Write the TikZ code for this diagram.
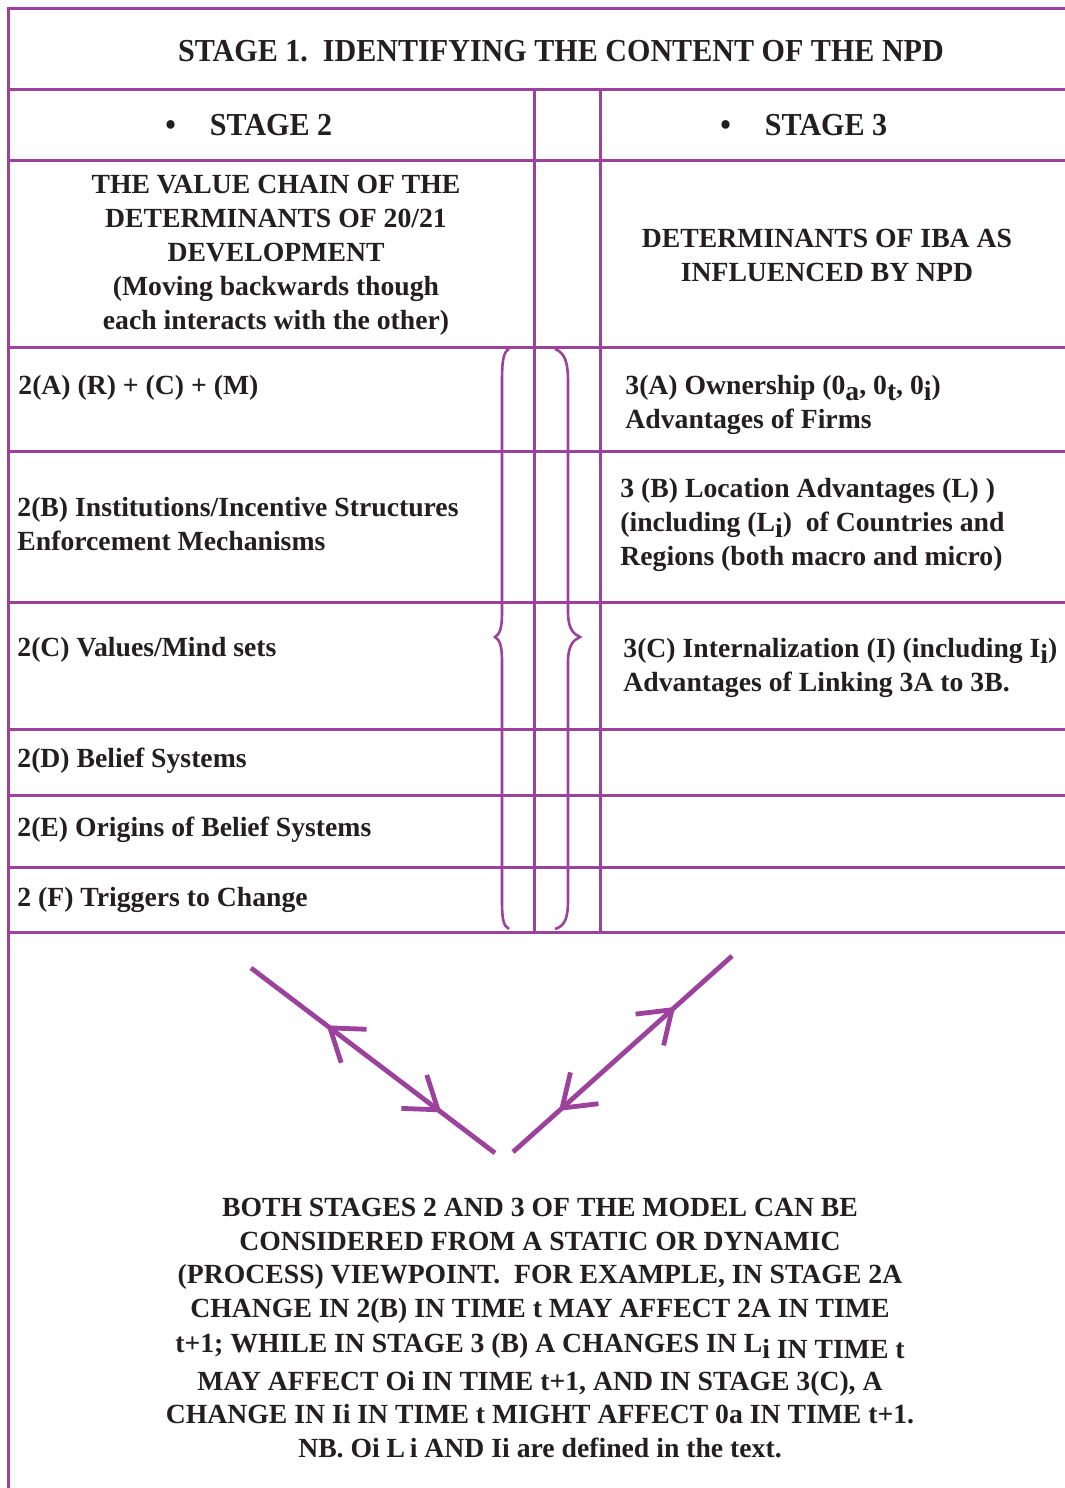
\documentclass[tikz,border=0pt]{standalone}
\usepackage{fontspec}
\usepackage{graphicx}
\setmainfont{Liberation Serif}
\newfontfamily\titlefont{Liberation Serif}[FakeStretch=0.94]
\usetikzlibrary{arrows.meta,decorations.markings}
\definecolor{npdpurple}{RGB}{156,66,156}
\definecolor{inkc}{RGB}{35,31,32}
\newcommand\lsub[1]{\raisebox{-0.2em}{#1}}
\begin{document}
\begin{tikzpicture}[x=0.5pt,y=-0.5pt,
  gridline/.style={draw=npdpurple, line width=1.5pt},
  bracepath/.style={draw=npdpurple, line width=1.3pt},
  arrowline/.style={draw=npdpurple, line width=2.4pt},
  bodytxt/.style={inner sep=0pt, text=inkc, font=\fontsize{13.85pt}{17pt}\selectfont\bfseries},
  titletxt/.style={inner sep=0pt, text=inkc, font=\fontsize{16pt}{19pt}\titlefont\bfseries},
  cell/.style={bodytxt, anchor=west, align=left},
  headblock/.style={bodytxt, align=center},
  barb/.tip={Straight Barb[length=15pt,width=21pt]}
]
\useasboundingbox (0,0) rectangle (1065,1488);

% table frame
\draw[gridline] (8,1488) -- (8,8) -- (1065,8);
\foreach \yy in {89,160,347,451,602,729,795,867,932}
  \draw[gridline] (8,\yy) -- (1065,\yy);
\draw[gridline] (534,89) -- (534,932);
\draw[gridline] (600,89) -- (600,932);

% braces
\draw[bracepath] (509,349) .. controls (503,352) and (502,362) .. (502,382)
  -- (502,612) .. controls (502,628) and (500,634) .. (495,637)
  .. controls (500,640) and (502,646) .. (502,662)
  -- (502,900) .. controls (502,918) and (503,926) .. (509,929);
\draw[bracepath] (555,349) .. controls (565,353) and (568,362) .. (568,382)
  -- (568,612) .. controls (568,628) and (573,634) .. (580,637)
  .. controls (573,640) and (568,646) .. (568,662)
  -- (568,900) .. controls (568,918) and (565,926) .. (555,929);

% titles
\node[titletxt] (title) at (561,51) {STAGE 1.\ \ IDENTIFYING THE CONTENT OF THE NPD};
\node[titletxt, anchor=west] (stage2) at (165,125) {\textbullet\hspace{17pt}STAGE 2};
\node[titletxt, anchor=west] (stage3) at (720,125) {\textbullet\hspace{17pt}STAGE 3};

\node[headblock] (vchain) at (276,255) {THE VALUE CHAIN OF THE\\ DETERMINANTS OF 20/21\\ DEVELOPMENT\\ (Moving backwards though\\ each interacts with the other)};
\node[headblock] (iba) at (827,255) {DETERMINANTS OF IBA AS\\ INFLUENCED BY NPD};

% stage 2 rows
\node[cell] (r2a) at (18,388) {2(A) (R) + (C) + (M)};
\node[cell] (r2b) at (17,524) {2(B) Institutions/Incentive Structures\\ Enforcement Mechanisms};
\node[cell] (r2c) at (17,650) {2(C) Values/Mind sets};
\node[cell] (r2d) at (17,761) {2(D) Belief Systems};
\node[cell] (r2e) at (17,830) {2(E) Origins of Belief Systems};
\node[cell] (r2f) at (17,900) {2 (F) Triggers to Change};

% stage 3 rows
\node[cell] (r3a) at (625,405) {3(A) Ownership (0\lsub{a}, 0\lsub{t}, 0\lsub{i})\\ Advantages of Firms};
\node[cell] (r3b) at (620,525) {3 (B) Location Advantages (L) )\\ (including (L\lsub{i})\ \ of Countries and\\ Regions (both macro and micro)};
\node[cell] (r3c) at (623,668) {3(C) Internalization (I) (including I\lsub{i})\\ Advantages of Linking 3A to 3B.};

% arrows
\coordinate (la) at (251,968);
\coordinate (lb) at (495,1153);
\coordinate (ra) at (513,1152);
\coordinate (rb) at (732,956);
\draw[arrowline, postaction={decorate}, decoration={markings,
   mark=at position 0.31 with {\arrowreversed{barb}},
   mark=at position 0.78 with {\arrow{barb}}}] (la) -- (lb);
\draw[arrowline, postaction={decorate}, decoration={markings,
   mark=at position 0.21 with {\arrowreversed{barb}},
   mark=at position 0.74 with {\arrow{barb}}}] (ra) -- (rb);

% note
\node[headblock, font=\fontsize{13.85pt}{16.75pt}\selectfont\bfseries] (note) at (540,1328) {BOTH STAGES 2 AND 3 OF THE MODEL CAN BE\\ CONSIDERED FROM A STATIC OR DYNAMIC\\ (PROCESS) VIEWPOINT.\ \ FOR EXAMPLE, IN STAGE 2A\\ CHANGE IN 2(B) IN TIME t MAY AFFECT 2A IN TIME\\[1pt] t+1; WHILE IN STAGE 3 (B) A CHANGES IN L\lsub{i IN TIME t}\\[2pt] MAY AFFECT Oi IN TIME t+1, AND IN STAGE 3(C), A\\ CHANGE IN Ii IN TIME t MIGHT AFFECT 0a IN TIME t+1.\\ NB. Oi L\,i AND Ii are defined in the text.};
\end{tikzpicture}
\end{document}
